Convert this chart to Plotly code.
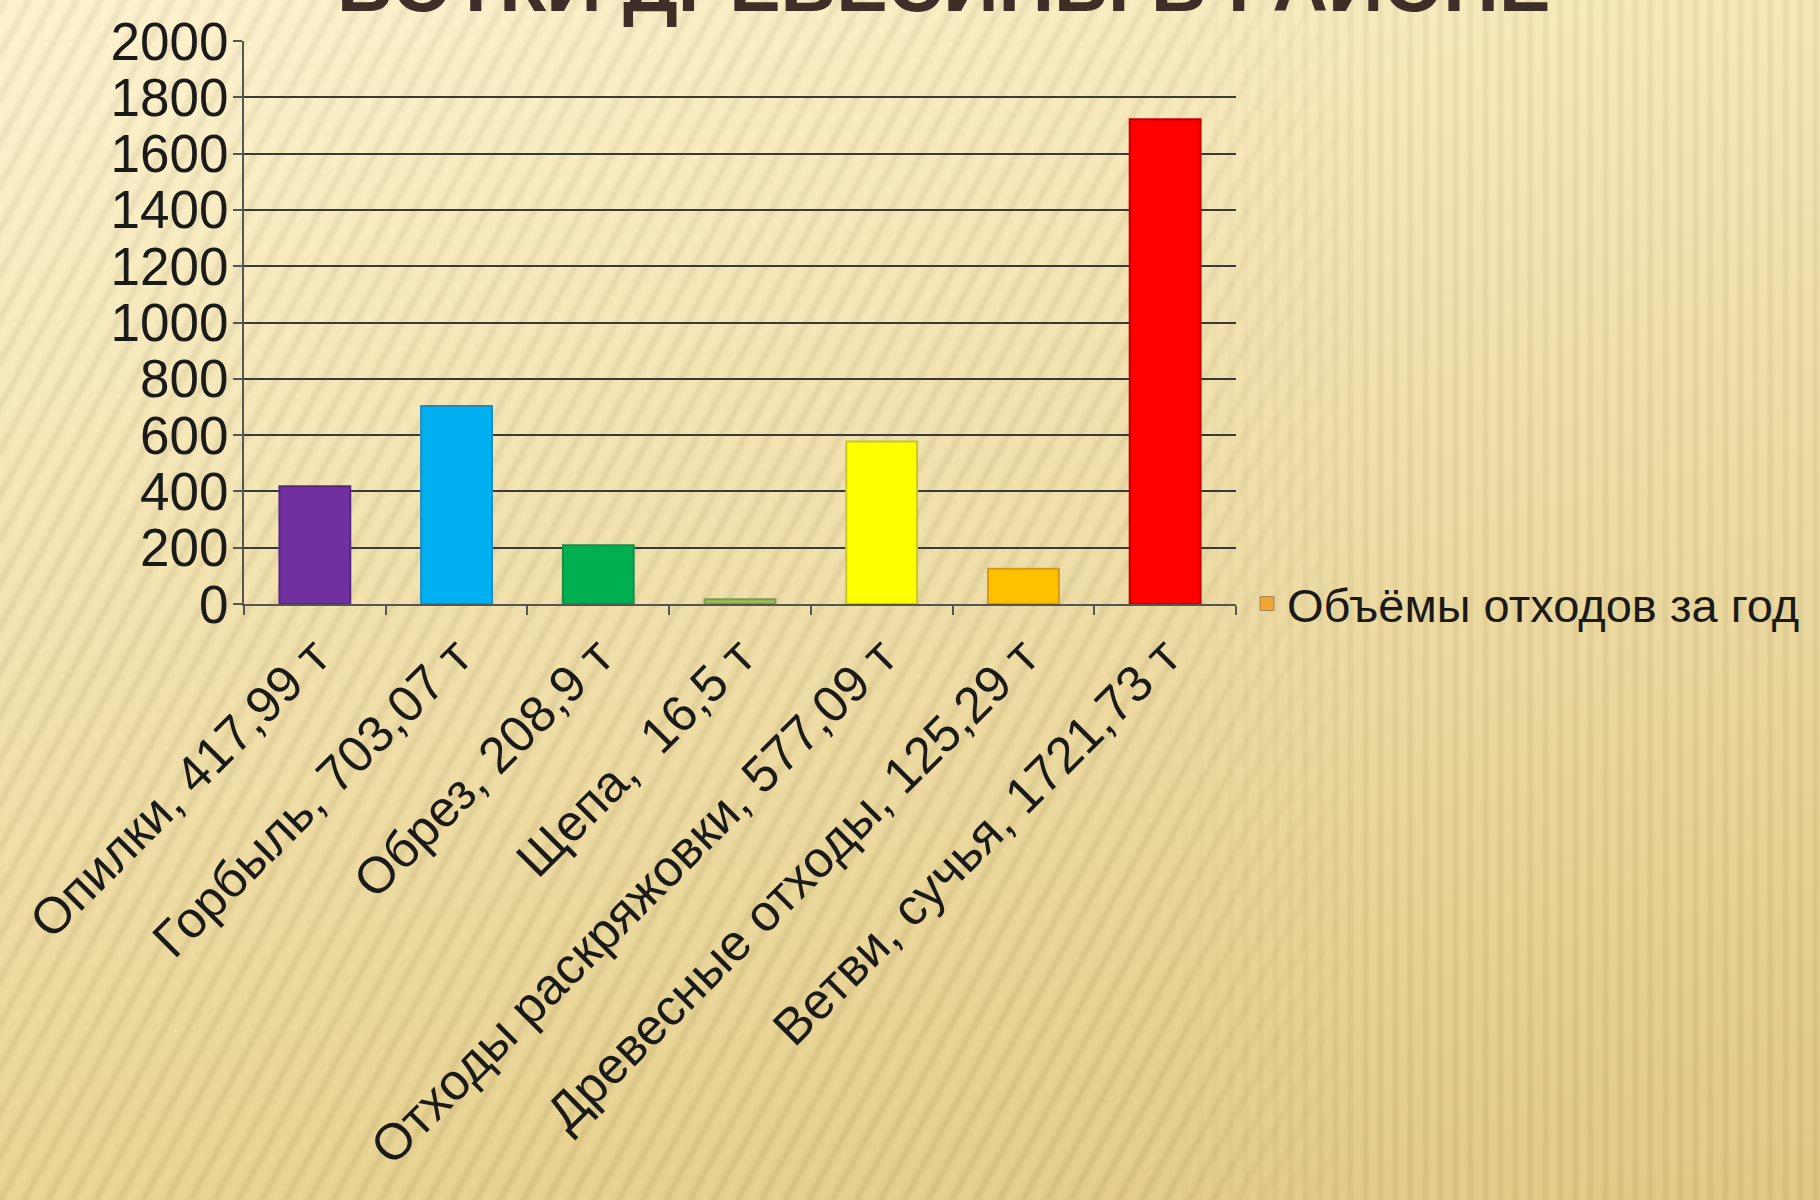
import base64
import struct
import zlib

import numpy as np
import plotly.graph_objects as go

categories = [
    "Опилки, 417,99 т",
    "Горбыль, 703,07 т",
    "Обрез, 208,9 т",
    "Щепа,  16,5 т",
    "Отходы раскряжовки, 577,09 т",
    "Древесные отходы, 125,29 т",
    "Ветви, сучья, 1721,73 т",
]
values = [417.99, 703.07, 208.9, 16.5, 577.09, 125.29, 1721.73]
bar_colors = ["#7030A0", "#00B0F0", "#00B050", "#9BBB59", "#FFFF00", "#FFC000", "#FF0000"]
edge_colors = ["#5A2780", "#1A8CC0", "#1E8A48", "#7F9A4A", "#C8C820", "#D89A10", "#C00000"]
series_name = "Объёмы отходов за год"
legend_color = "#F2A531"
y_ticks = [0, 200, 400, 600, 800, 1000, 1200, 1400, 1600, 1800, 2000]
title_text = "БОТКИ ДРЕВЕСИНЫ В РАЙОНЕ"

W, H = 1820, 1200
left, right_px, top, bottom_px = 244, 1236, 33, 604
plot_w, plot_h = right_px - left, bottom_px - top
PAD = 30  # background image overscan


# ---- decorative striped background (slide texture) ----
def make_background():
    BW, BH = W + 2 * PAD, H + 2 * PAD
    yy, xx = np.mgrid[0:BH, 0:BW].astype(np.float32)
    xx -= PAD
    yy -= PAD
    u, v = np.clip(xx / W, 0, 1), np.clip(yy / H, 0, 1)
    tl = np.array([253, 243, 207], np.float32)
    tr = np.array([246, 232, 184], np.float32)
    bl = np.array([234, 214, 150], np.float32)
    br = np.array([226, 202, 134], np.float32)
    base = ((1 - u)[..., None] * (1 - v)[..., None] * tl + u[..., None] * (1 - v)[..., None] * tr
            + (1 - u)[..., None] * v[..., None] * bl + u[..., None] * v[..., None] * br)
    a = np.deg2rad(62)
    ph_d = (xx * np.sin(a) + yy * np.cos(a)) / 21.0
    diag = (0.5 + 0.5 * np.cos(2 * np.pi * ph_d)) ** 3
    ph_v = xx / 15.0
    vert = (0.5 + 0.5 * np.cos(2 * np.pi * ph_v)) ** 2
    w = np.clip((xx - 1150) / 220, 0, 1)
    stripe = (1 - w) * diag * 14 + w * vert * 12
    img = base - stripe[..., None]
    img = np.clip(img, 0, 255).astype(np.uint8)
    raw = b"".join(b"\x00" + img[r].tobytes() for r in range(BH))

    def chunk(tag, data):
        c = tag + data
        return struct.pack(">I", len(data)) + c + struct.pack(">I", zlib.crc32(c) & 0xFFFFFFFF)

    png = (b"\x89PNG\r\n\x1a\n"
           + chunk(b"IHDR", struct.pack(">IIBBBBB", BW, BH, 8, 2, 0, 0, 0))
           + chunk(b"IDAT", zlib.compress(raw, 9))
           + chunk(b"IEND", b""))
    return "data:image/png;base64," + base64.b64encode(png).decode()


bg_src = make_background()

fig = go.Figure()
fig.add_trace(go.Bar(
    x=categories, y=values,
    marker=dict(color=bar_colors, line=dict(color=edge_colors, width=2)),
    showlegend=False, width=0.5,
))
fig.add_trace(go.Scatter(
    x=[None], y=[None], mode="markers", name=series_name,
    marker=dict(symbol="square", size=14, color=legend_color,
                line=dict(color="#9A8A60", width=1)),
))

fig.update_layout(
    width=W, height=H,
    margin=dict(l=left, r=W - right_px, t=top, b=H - bottom_px, pad=0),
    paper_bgcolor="#EFDDA6",
    plot_bgcolor="rgba(0,0,0,0)",
    font=dict(family="Liberation Sans, Arial, sans-serif", color="#1A1A1A"),
    bargap=0.5,
    legend=dict(x=(1247 - left) / plot_w, y=0, xanchor="left", yanchor="middle",
                font=dict(size=47, color="#1A1A1A"), bgcolor="rgba(0,0,0,0)",
                itemwidth=30, tracegroupgap=0),
    images=[dict(
        source=bg_src, xref="paper", yref="paper",
        x=-(left + PAD) / plot_w, y=1 + (top + PAD) / plot_h,
        sizex=(W + 2 * PAD) / plot_w, sizey=(H + 2 * PAD) / plot_h,
        xanchor="left", yanchor="top", sizing="stretch", layer="below",
    )],
    annotations=[dict(
        text="<b>" + title_text + "</b>", xref="paper", yref="paper",
        x=(943 - left) / plot_w, y=1 + (top - 21) / plot_h,
        xanchor="center", yanchor="bottom", showarrow=False,
        font=dict(size=77, color="#3E2E27", family="Liberation Sans, Arial, sans-serif"),
    )],
)
fig.update_yaxes(
    range=[0, 2000], tickvals=y_ticks, ticktext=[str(v) for v in y_ticks],
    showgrid=True, gridcolor="#3A3A3A", gridwidth=2,
    showline=True, linecolor="#555555", linewidth=2,
    ticks="outside", ticklen=9, tickcolor="#555555", tickwidth=2,
    tickfont=dict(size=53, color="#1A1A1A"), zeroline=False,
    ticklabelstandoff=-6,
)
fig.update_xaxes(
    showline=True, linecolor="#555555", linewidth=2,
    ticks="outside", ticklen=9, tickcolor="#555555", tickwidth=2,
    tickson="boundaries", tickangle=-45,
    tickfont=dict(size=51, color="#1A1A1A"),
)

fig.write_html("out.html", config={"displayModeBar": False},
               post_script="document.body.style.margin='0px';")
